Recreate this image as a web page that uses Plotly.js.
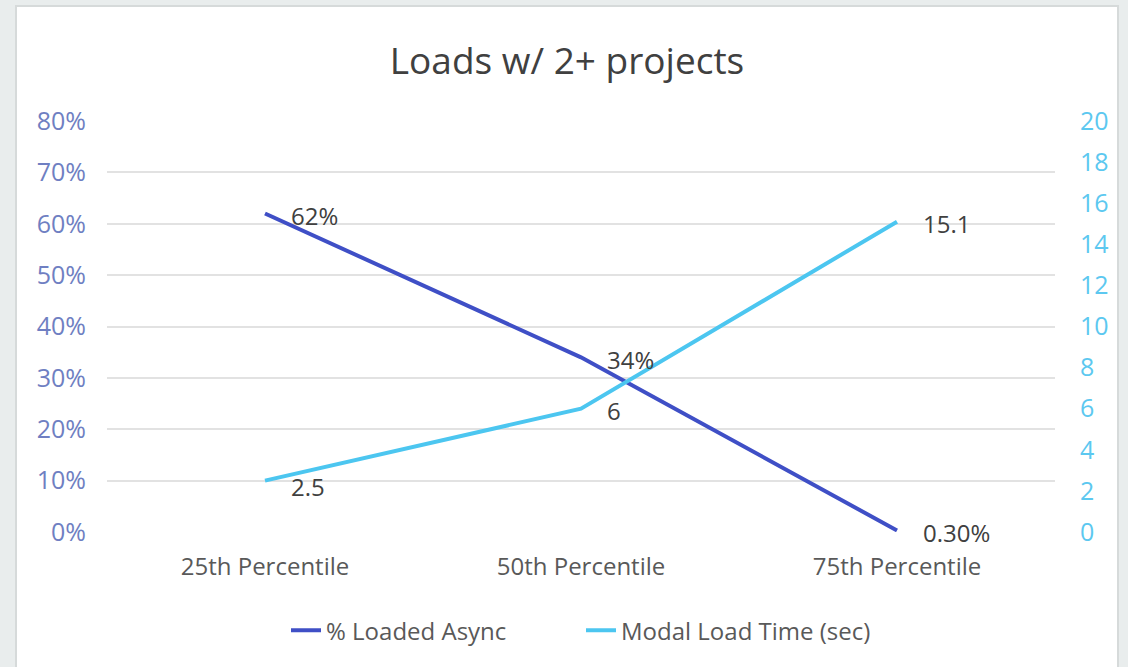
<!DOCTYPE html>
<html>
<head>
<meta charset="utf-8">
<script src="https://cdn.plot.ly/plotly-3.0.1.min.js"></script>
<style>
  body { margin: 0; background: #e9eded; }
  #chart { position: absolute; left: 15px; top: 5px; width: 1100px; height: 661px; border: 2px solid #d6dada; background: #fff; }
</style>
</head>
<body>
<div id="chart"></div>
<script>
const categories = ["25th Percentile", "50th Percentile", "75th Percentile"]
const loadedAsync = [0.62, 0.34, 0.003]
const loadedAsyncLabels = ["62%", "34%", "0.30%"]
const loadTime = [2.5, 6, 15.1]
const loadTimeLabels = ["2.5", "6", "15.1"]

const darkBlue = "#3f4fc6"
const lightBlue = "#4cc6f0"
const font = "Open Sans, Lato, sans-serif"

const async = {
    x: categories,
    y: loadedAsync,
    mode: 'lines',
    name: "% Loaded Async",
    type: 'scatter',
    line: { color: darkBlue, width: 4 },
};

const modal = {
    x: categories,
    y: loadTime,
    yaxis: 'y2',
    mode: 'lines',
    name: "Modal Load Time (sec)",
    type: 'scatter',
    line: { color: lightBlue, width: 4 },
};

const annotations = []
for (let i = 0; i < categories.length; i++) {
    annotations.push({ x: categories[i], y: loadedAsync[i], yref: 'y', text: loadedAsyncLabels[i],
        showarrow: false, xanchor: 'left', xshift: 24, yshift: -2, font: { size: 24, color: '#404040', family: font } })
    annotations.push({ x: categories[i], y: loadTime[i], yref: 'y2', text: loadTimeLabels[i],
        showarrow: false, xanchor: 'left', xshift: 24, yshift: i == 0 ? -6 : -2, font: { size: 24, color: '#404040', family: font } })
}

var layout = {
    title: { text: 'Loads w/ 2+ projects', x: 0.5, y: 0.918, yanchor: 'middle', font: { size: 37, color: '#404040', family: font } },
    width: 1100,
    height: 661,
    margin: { l: 90, r: 62, t: 114, b: 136 },
    paper_bgcolor: '#fff',
    plot_bgcolor: '#fff',
    font: { family: font },
    showlegend: true,
    legend: { orientation: 'h', x: 0.5, xanchor: 'center', y: -0.24, yanchor: 'middle', entrywidth: 250,
        font: { size: 24, color: '#595959' } },
    xaxis: {
        type: 'category',
        range: [-0.5, 2.5],
        showgrid: false,
        zeroline: false,
        showline: false,
        ticklabelstandoff: 18,
        tickfont: { size: 24, color: '#595959' },
    },
    yaxis: {
        range: [0, 0.8],
        dtick: 0.1,
        tickformat: '.0%',
        gridcolor: '#e2e2e2',
        gridwidth: 2,
        zeroline: false,
        ticklabelstandoff: 20,
        tickfont: { size: 25, color: '#6f7fc2' },
    },
    yaxis2: {
        overlaying: 'y',
        side: 'right',
        range: [0, 20],
        dtick: 2,
        showgrid: false,
        zeroline: false,
        ticklabelstandoff: 24,
        tickfont: { size: 25, color: '#5cc8f0' },
    },
    annotations: annotations,
};

Plotly.newPlot('chart', [async, modal], layout, { displayModeBar: false });
</script>
</body>
</html>
